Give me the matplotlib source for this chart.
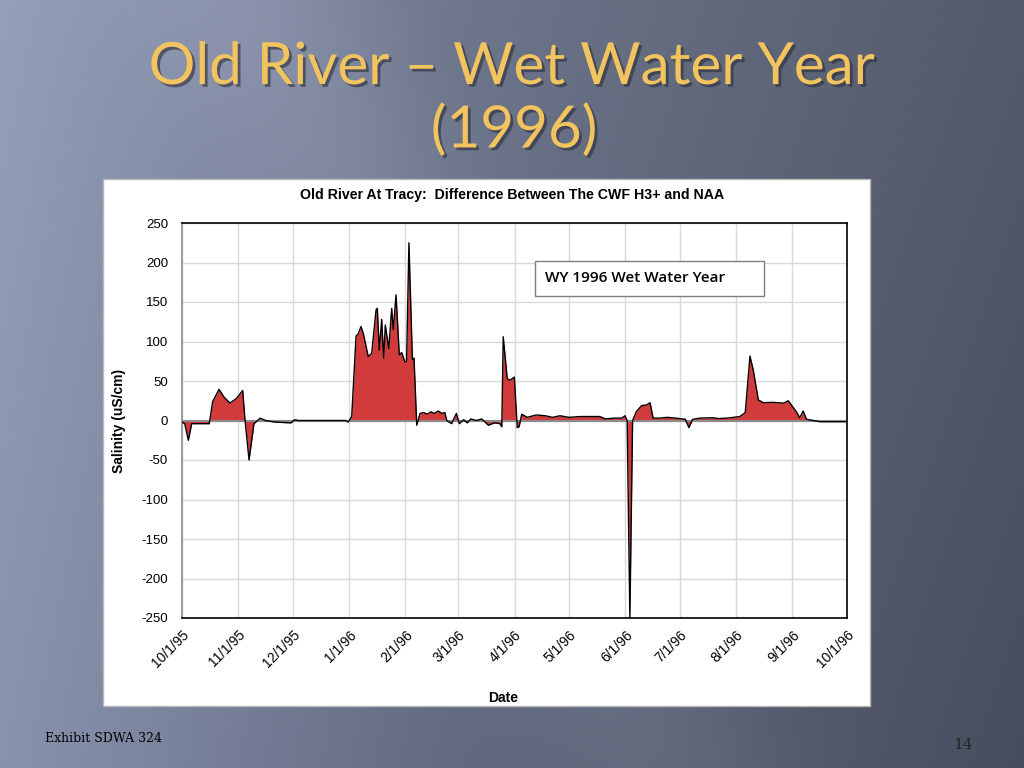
import numpy as np
import matplotlib
matplotlib.use("Agg")
import matplotlib.pyplot as plt
import matplotlib.patheffects as pe
from matplotlib.patches import Rectangle

# days since 10/1/95 and salinity difference (uS/cm)
day = [0, 1.5, 3.5, 5.3, 10, 15, 16.9, 20.4, 23, 26.4, 30, 33.4, 34.7, 36.9, 39.6,
       43, 46, 51, 60, 62, 64, 90, 91.5, 93.4, 95.8, 97, 98.5, 99.8, 102.5, 104.4,
       106.8, 107.5, 108.6, 109.9, 111, 111.9, 113.8, 115.4, 116.3, 117.8, 119.6,
       120.9, 122.7, 123.6, 124.9, 126.8, 127.7, 129.2, 131, 133, 135, 137, 139,
       141, 143, 144.7, 145.7, 148.4, 151, 152.6, 155, 157, 159, 162, 165, 168.6,
       172, 175, 176, 176.8, 179, 180.5, 182.9, 184.5, 185.5, 187, 190, 195, 200,
       204, 208, 213, 219, 224, 230, 233, 238, 242, 243.8, 245, 246.5, 248, 250,
       253, 255.5, 257.6, 259.3, 263, 267, 272, 277, 279, 281, 285, 292, 295, 300,
       307, 310, 312.6, 314.4, 317.2, 320, 325.4, 331, 333.7, 338.3, 340, 341.9,
       343.7, 347.5, 351, 358, 366]
salinity = [-2, -4, -25, -4, -4, -4, 24, 39.5, 30, 22, 28, 38, 0, -50, -4,
            3, 0, -2, -3, 1, 0, 0, -2, 5, 107, 109.5, 119, 110, 81, 85,
            140, 142, 89, 128, 79, 121, 91, 142, 115, 159, 83,
            86, 74, 75, 225, 77, 79, -6, 9, 10, 8, 11, 9,
            12, 9, 10, 0, -4, 9, -4, 1, -3, 2, 0, 2, -6,
            -3, -4, -8, 106, 53, 51, 55, -9, -8, 8, 4, 7, 6,
            4, 6, 4, 5, 5, 5, 2, 3, 3, 6, 0, -250, 0, 11,
            19, 19.5, 22.5, 3, 3, 4, 3, 1.5, -9, 1.5, 3, 3.5, 2.5, 3,
            5, 10, 81.5, 64, 26, 22.5, 23, 22, 25, 10.5, 3.5, 12,
            1.5, 0, -1.5, -1.5, -1.5]

month_days = [0, 31, 61, 92, 123, 152, 183, 213, 244, 274, 305, 336, 366]
month_labels = ['10/1/95', '11/1/95', '12/1/95', '1/1/96', '2/1/96', '3/1/96',
                '4/1/96', '5/1/96', '6/1/96', '7/1/96', '8/1/96', '9/1/96', '10/1/96']
y_ticks = [250, 200, 150, 100, 50, 0, -50, -100, -150, -200, -250]

fig = plt.figure(figsize=(10.24, 7.68), dpi=100)

# slide background gradient
bg = fig.add_axes([0, 0, 1, 1])
h, w = 768, 1024
yy, xx = np.mgrid[0:h, 0:w]
t = xx / w
light = np.array([150, 159, 186]) / 255
mid = np.array([110, 118, 140]) / 255
dark = np.array([84, 90, 106]) / 255
base = np.where(t[..., None] < 0.45,
                light + (mid - light) * (t[..., None] / 0.45),
                mid + (dark - mid) * ((t[..., None] - 0.45) / 0.55))
streak = np.exp(-((xx - 0.55 * yy - 250) / 120.0) ** 2)[..., None] * 0.04
img = np.clip(base + streak - (yy / h)[..., None] * 0.05, 0, 1)
bg.imshow(img, aspect='auto', extent=[0, 1, 0, 1])
bg.set_xlim(0, 1)
bg.set_ylim(0, 1)
bg.axis('off')

# slide title
shadow = [pe.withSimplePatchShadow(offset=(2, -2), shadow_rgbFace='#2a2e3a', alpha=0.6)]
fig.text(0.5, 0.912, 'Old River \u2013 Wet Water Year', ha='center', va='center',
         fontsize=42, color='#f2c460', family='Lato', path_effects=shadow)
fig.text(0.502, 0.83, '(1996)', ha='center', va='center',
         fontsize=42, color='#f2c460', family='Lato', path_effects=shadow)

# white chart panel
fig.patches.append(Rectangle((103 / 1024, 1 - 706 / 768), 767 / 1024, 527 / 768,
                             transform=fig.transFigure, facecolor='white',
                             edgecolor='#b8b8b8', lw=1, zorder=1))

ax = fig.add_axes([182 / 1024, 1 - 618 / 768, 665 / 1024, 395 / 768], zorder=2)
ax.fill_between(day, 0, salinity, color='#d13b3b', lw=0, zorder=2)
ax.plot(day, salinity, color='black', lw=1, zorder=3)
ax.axhline(0, color='#8c8c8c', lw=1.5, zorder=2.5)

ax.set_xlim(0, 366)
ax.set_ylim(-250, 250)
ax.set_xticks(month_days)
ax.set_xticklabels(month_labels, rotation=45, ha='right', rotation_mode='anchor',
                   fontsize=10, family='Liberation Sans')
ax.set_yticks(y_ticks)
ax.set_yticklabels([str(v) for v in y_ticks], fontsize=9.5, family='Liberation Sans')
ax.tick_params(length=0, pad=10)
ax.tick_params(axis='x', pad=7)
ax.grid(True, color='#d9d9d9', lw=1)
ax.set_axisbelow(True)
for s in ax.spines.values():
    s.set_color('black')
    s.set_linewidth(1.2)
ax.spines['left'].set_color('#8c8c8c')

ax.set_xlabel('Date', fontsize=10, fontweight='bold', family='Liberation Sans', labelpad=15)
ax.xaxis.label.set_x(0.483)
ax.set_ylabel('Salinity (uS/cm)', fontsize=10, fontweight='bold', family='Liberation Sans',
              labelpad=11)
ax.set_title('Old River At Tracy:  Difference Between The CWF H3+ and NAA',
             fontsize=10.2, fontweight='bold', family='Liberation Sans', pad=17, x=0.497)

# annotation box
ax.add_patch(Rectangle((0.5308, 0.8152), 0.3444, 0.0886, transform=ax.transAxes,
                       facecolor='white', edgecolor='#7f7f7f', lw=1, zorder=5))
ax.text(0.5459, 0.8595, 'WY 1996 Wet Water Year', transform=ax.transAxes, fontsize=11,
        family='Open Sans', fontweight='semibold', va='center', ha='left', zorder=6)

# footer
fig.text(45 / 1024, 1 - 739 / 768, 'Exhibit SDWA 324', fontsize=9, family='DejaVu Serif',
         color='black', va='center')
fig.text(963 / 1024, 1 - 745 / 768, '14', fontsize=11, family='DejaVu Serif',
         color='#222222', va='center', ha='center')

fig.savefig('out.png', dpi=100)
